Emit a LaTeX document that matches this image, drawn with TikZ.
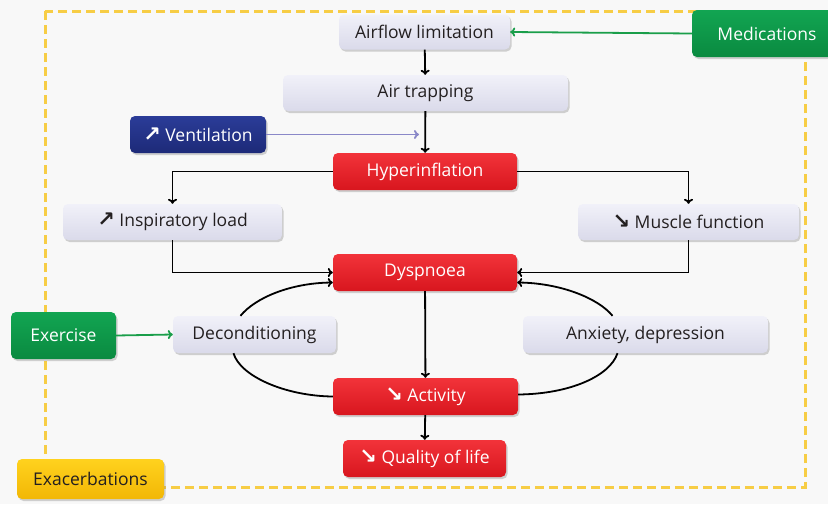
\documentclass[tikz,border=0pt]{standalone}
\usepackage{fontspec}
\setmainfont{Open Sans}
\newfontfamily\symfont{DejaVu Sans}
\usetikzlibrary{arrows.meta,shadows,calc}
\definecolor{bgc}{HTML}{F8F8F8}
\definecolor{lavtop}{HTML}{F1F1F9}
\definecolor{lavbot}{HTML}{DADAEA}
\definecolor{redtop}{HTML}{F2333A}
\definecolor{redbot}{HTML}{D8161E}
\definecolor{bluetop}{HTML}{2B3C98}
\definecolor{bluebot}{HTML}{1D2A78}
\definecolor{greentop}{HTML}{12A552}
\definecolor{greenbot}{HTML}{0A8A40}
\definecolor{yeltop}{HTML}{FFD21E}
\definecolor{yelbot}{HTML}{F2B705}
\definecolor{dashc}{HTML}{F7CD45}
\definecolor{txt}{HTML}{231F20}
\definecolor{ventarrow}{HTML}{8A88C8}
\definecolor{greenarrow}{HTML}{1A9E4A}
\newcommand{\upar}{{\symfont\bfseries\fontsize{21}{20}\selectfont ↗}}
\newcommand{\dnar}{{\symfont\bfseries\fontsize{21}{20}\selectfont ↘}}
\tikzset{
  box/.style={rounded corners=5pt, inner sep=0pt, align=center,
    font=\fontsize{17.5}{20}\selectfont,
    drop shadow={shadow xshift=1.5pt, shadow yshift=-2pt, opacity=0.35}},
  lav/.style={box, top color=lavtop, bottom color=lavbot, text=txt},
  redbox/.style={box, top color=redtop, bottom color=redbot, text=white},
  bluebox/.style={box, top color=bluetop, bottom color=bluebot, text=white},
  greenbox/.style={box, top color=greentop, bottom color=greenbot, text=white},
  yelbox/.style={box, top color=yeltop, bottom color=yelbot, text=txt},
  tip/.style={-{To[length=5pt,width=9pt]}},
  conn/.style={line width=1.8pt, black, tip},
  plain/.style={line width=1.8pt, black},
}
\begin{document}
\begin{tikzpicture}[x=1pt,y=-1pt]
\useasboundingbox (0,0) rectangle (828,504);
\clip (0,0) rectangle (828,504);
\fill[bgc] (0,0) rectangle (828,504);
\draw[dashc, line width=3pt, dash pattern=on 9pt off 5pt] (45,11) rectangle (805,487);

\node[lav, minimum width=171pt, minimum height=35pt] (air) at (424.5,32) {Airflow limitation};
\node[lav, minimum width=285pt, minimum height=36pt] (trap) at (425.5,93) {Air trapping};
\node[bluebox, minimum width=136pt, minimum height=37pt] (vent) at (198,134.5) {\upar\ Ventilation};
\node[redbox, minimum width=184pt, minimum height=37pt] (hyper) at (425,171.5) {Hyperinflation};
\node[lav, minimum width=219pt, minimum height=36pt] (insp) at (172.5,222) {\upar\ Inspiratory load};
\node[lav, minimum width=221pt, minimum height=36pt] (muscle) at (688.5,222) {\dnar\ Muscle function};
\node[greenbox, minimum width=150pt, minimum height=47pt] (med) at (767,33.5) {Medications};
\node[redbox, minimum width=184pt, minimum height=37pt] (dys) at (425,272.5) {Dyspnoea};
\node[greenbox, minimum width=105pt, minimum height=47pt] (exer) at (63.5,335.5) {Exercise};
\node[lav, minimum width=163pt, minimum height=37pt] (decon) at (254.5,334.5) {Deconditioning};
\node[lav, minimum width=245pt, minimum height=37pt] (anx) at (645.5,334.5) {Anxiety, depression};
\node[redbox, minimum width=185pt, minimum height=37pt] (act) at (425.5,396.5) {\dnar\ Activity};
\node[redbox, minimum width=163pt, minimum height=37pt] (qol) at (424.5,458.5) {\dnar\ Quality of life};
\node[yelbox, minimum width=147pt, minimum height=40pt] (exac) at (90.5,479) {Exacerbations};

% connectors
\draw[conn] (air) -- (trap);
\draw[conn] (trap) -- (hyper);
\coordinate (ventend) at (vent.east -| hyper.north);
\draw[line width=1.8pt, ventarrow, tip] (vent.east) -- ([xshift=-6pt]ventend);
\draw[line width=1.8pt, greenarrow, tip] (med.west) -- (air.east);
\draw[conn] (hyper.west) -| (insp.north);
\draw[conn] (hyper.east) -| (muscle.north);
\draw[conn] (insp.south) |- (dys.west);
\draw[conn] (muscle.south) |- (dys.east);
\draw[conn] ([xshift=-14pt]decon.north) .. controls (255,298) and (290,283) .. ([yshift=-10pt]dys.west);
\draw[conn] ([xshift=-33pt]anx.north) .. controls (598,298) and (560,283) .. ([yshift=-10pt]dys.east);
\draw[plain] (act.west) .. controls (285,396) and (240,376) .. ([xshift=-21pt]decon.south);
\draw[plain] ([yshift=2pt]act.east) .. controls (570,394) and (610,376) .. ([xshift=-28pt]anx.south);
\draw[conn] (dys) -- (act);
\draw[conn] (act) -- (qol);
\draw[line width=1.8pt, greenarrow, tip] (exer.east) -- (decon.west);
\end{tikzpicture}
\end{document}
